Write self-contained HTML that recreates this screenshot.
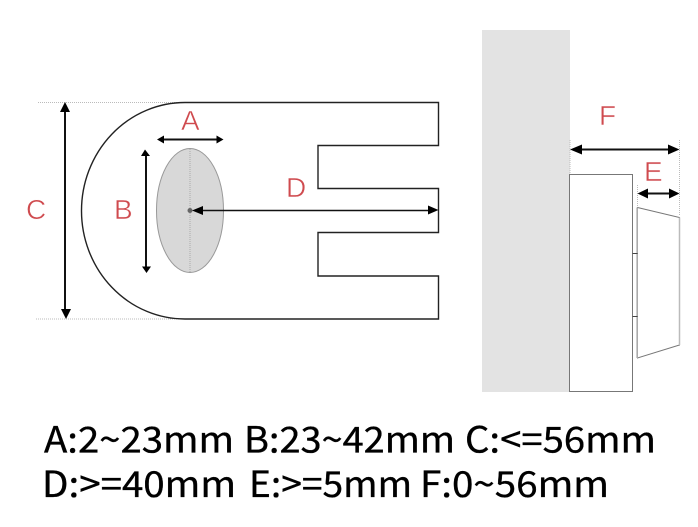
<!DOCTYPE html>
<html>
<head>
<meta charset="utf-8">
<style>
html,body{margin:0;padding:0;background:#fff;width:698px;height:527px;overflow:hidden}
svg{display:block}
.l{font-family:"Liberation Sans","Noto Sans CJK SC",sans-serif;font-size:28px;fill:#cf4a4e;stroke:#fff;stroke-width:.5px}
.t{font-family:"Noto Sans CJK SC","Liberation Sans",sans-serif;font-size:36px;fill:#000;stroke:#000;stroke-width:.35px}
</style>
</head>
<body>
<svg width="698" height="527" viewBox="0 0 698 527" xmlns="http://www.w3.org/2000/svg">
<rect width="698" height="527" fill="#fff"/>
<!-- wall -->
<rect x="482" y="30" width="88" height="362" fill="#e3e3e3"/>
<!-- guides -->
<g stroke="#bbb" stroke-width="1" stroke-dasharray="1 1" fill="none">
<path d="M38 102.500H185M36 319H185M127 149.500H190M127 272.500H190M157 130V210M223.500 130V210M190 149V272M570 140V174M679.500 140V215M637.500 185V208"/>
</g>
<!-- E shape -->
<path d="M185 102.500H438.500V145.500H318V188.500H438.500V232.500H318V276H438.500V319H185A103.500 108.250 0 0 1 185 102.500Z" fill="#fff" stroke="#222" stroke-width="1.400"/>
<!-- ellipse -->
<ellipse cx="190" cy="210.500" rx="33.500" ry="62" fill="#d8d8d8" stroke="#999" stroke-width="1"/>
<path d="M190 149V272" stroke="#aaa" stroke-width="1" stroke-dasharray="1 1"/>
<circle cx="190" cy="210.500" r="2.500" fill="#666"/>
<!-- side -->
<rect x="569.500" y="174.500" width="63" height="217" fill="#fff" stroke="#777" stroke-width="1"/>
<path d="M637.500 207.500L679.500 217.500V345L637.500 358Z" fill="#fff" stroke="#777" stroke-width="1"/>
<path d="M637 207.500V358" stroke="#bbb" stroke-width="1.500"/>
<path d="M679.500 217.500V345" stroke="#bbb" stroke-width="1.500"/>
<path d="M632.500 253.500H637.500M632.500 316.500H637.500" stroke="#444" stroke-width="1"/>
<!-- arrows -->
<g stroke="#111" stroke-width="2" fill="none">
<path d="M65 108V314"/>
<path d="M146 155V267"/>
<path d="M163 139.500H217"/>
<path d="M200 210.500H430" stroke-width="1.500"/>
<path d="M578 149.500H672"/>
<path d="M645 193.500H672"/>
</g>
<g fill="#000">
<path d="M65 102L60 112H70Z"/>
<path d="M66 319L61 309H71Z"/>
<path d="M145 149.500L141 156H150Z"/>
<path d="M146.500 273L142 266.500H151Z"/>
<path d="M157 139.500L164 135.500V143.500Z"/>
<path d="M223.500 139.500L216.500 135.500V143.500Z"/>
<path d="M192 210.500L203 206V215Z"/>
<path d="M438.500 210L428 205.500V214.500Z"/>
<path d="M570 149.500L582 144.500V154.500Z"/>
<path d="M679.500 149.500L668 144.500V154.500Z"/>
<path d="M637.500 193.500L648 188.500V198.500Z"/>
<path d="M679.500 193.500L669 188.500V198.500Z"/>
</g>
<!-- labels -->
<text class="l" x="181" y="130">A</text>
<text class="l" x="114" y="219">B</text>
<text class="l" x="26" y="219">C</text>
<text class="l" x="286" y="197">D</text>
<text class="l" x="644" y="181">E</text>
<text class="l" x="599" y="125">F</text>
<!-- caption -->
<text class="t" x="44" y="452.500" textLength="190" lengthAdjust="spacingAndGlyphs">A:2~23mm</text>
<text class="t" x="244" y="452.500" textLength="211" lengthAdjust="spacingAndGlyphs">B:23~42mm</text>
<text class="t" x="465" y="452.500" textLength="191" lengthAdjust="spacingAndGlyphs">C:&lt;=56mm</text>
<text class="t" x="42" y="497" textLength="194" lengthAdjust="spacingAndGlyphs">D:&gt;=40mm</text>
<text class="t" x="249" y="497" textLength="163" lengthAdjust="spacingAndGlyphs">E:&gt;=5mm</text>
<text class="t" x="420" y="497" textLength="189" lengthAdjust="spacingAndGlyphs">F:0~56mm</text>
</svg>
</body>
</html>
